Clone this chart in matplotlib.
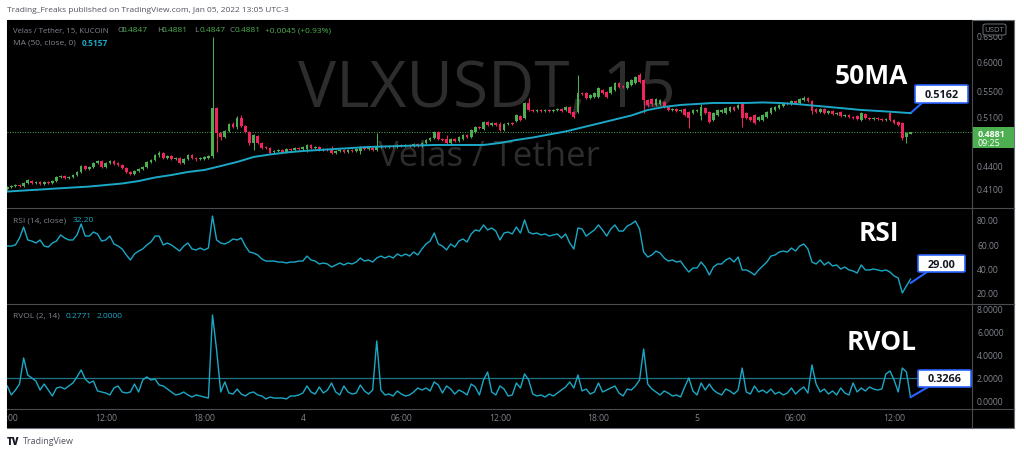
import numpy as np
import matplotlib
matplotlib.use("Agg")
import matplotlib.pyplot as plt
from matplotlib.patches import Rectangle, FancyBboxPatch
from matplotlib.lines import Line2D
from matplotlib.ticker import NullLocator

plt.rcParams["font.family"] = ["Open Sans", "DejaVu Sans"]

# VLXUSDT 15m bars, Jan 03 06:00 -> Jan 05 13:00 (UTC-3)
opens = [.4111,.4136,.4149,.4161,.4149,.4186,.4211,.4186,.4199,.4174,
 .4199,.4186,.4211,.4262,.4275,.4249,.4262,.4288,.4327,.4405,
 .4366,.4392,.4446,.4472,.4392,.4446,.4472,.4446,.4419,.4379,
 .4327,.4301,.4340,.4366,.4392,.4459,.4486,.4553,.4581,.4512,
 .4539,.4499,.4512,.4446,.4499,.4553,.4512,.4499,.4499,.4512,
 .4539,.5243,.4864,.4806,.4893,.4997,.4952,.5088,.4967,.4878,
 .4720,.4820,.4720,.4664,.4650,.4594,.4608,.4622,.4594,.4636,
 .4622,.4650,.4636,.4636,.4692,.4650,.4664,.4622,.4636,.4636,
 .4581,.4608,.4622,.4594,.4622,.4608,.4608,.4664,.4636,.4650,
 .4622,.4664,.4678,.4664,.4678,.4664,.4692,.4678,.4692,.4678,
 .4706,.4678,.4720,.4763,.4791,.4878,.4777,.4777,.4720,.4777,
 .4748,.4777,.4835,.4806,.4878,.4952,.4923,.5027,.4982,.5012,
 .4997,.4908,.4997,.5012,.5042,.5118,.5088,.5322,.5211,.5196,
 .5211,.5196,.5211,.5196,.5211,.5227,.5211,.5259,.5180,.5180,
 .5484,.5484,.5402,.5418,.5418,.5533,.5500,.5484,.5533,.5651,
 .5600,.5566,.5617,.5651,.5788,.5702,.5370,.5386,.5290,.5306,
 .5338,.5259,.5211,.5227,.5196,.5227,.5180,.5165,.5196,.5118,
 .5243,.5180,.5057,.5134,.5180,.5165,.5196,.5259,.5243,.5322,
 .5165,.5103,.5134,.5057,.5057,.5103,.5165,.5211,.5243,.5274,
 .5322,.5306,.5354,.5322,.5370,.5402,.5354,.5227,.5180,.5227,
 .5165,.5196,.5149,.5180,.5118,.5134,.5103,.5118,.5057,.5149,
 .5088,.5072,.5088,.5072,.5057,.5165,.5057,.5027,.5012,.4806,.4847]
closes = [.4136,.4149,.4161,.4149,.4186,.4224,.4186,.4199,.4174,.4199,
 .4186,.4211,.4262,.4275,.4249,.4262,.4288,.4327,.4405,.4366,
 .4392,.4446,.4472,.4392,.4446,.4472,.4432,.4419,.4379,.4327,
 .4301,.4340,.4366,.4392,.4459,.4486,.4553,.4581,.4512,.4539,
 .4499,.4512,.4446,.4499,.4553,.4512,.4499,.4512,.4526,.4539,
 .5243,.4864,.4806,.4893,.4997,.4952,.5088,.4967,.4878,.4720,
 .4835,.4720,.4650,.4650,.4581,.4608,.4622,.4594,.4636,.4622,
 .4650,.4636,.4664,.4692,.4650,.4664,.4622,.4636,.4622,.4581,
 .4608,.4622,.4594,.4622,.4608,.4636,.4664,.4636,.4650,.4622,
 .4664,.4678,.4664,.4678,.4664,.4692,.4678,.4692,.4678,.4706,
 .4678,.4720,.4763,.4791,.4878,.4777,.4763,.4720,.4777,.4748,
 .4806,.4835,.4806,.4908,.4952,.4937,.5027,.4982,.5012,.4982,
 .4908,.4997,.5012,.4997,.5134,.5057,.5322,.5211,.5196,.5211,
 .5196,.5211,.5196,.5211,.5227,.5196,.5259,.5165,.5103,.5484,
 .5467,.5402,.5451,.5484,.5566,.5484,.5418,.5583,.5651,.5583,
 .5583,.5668,.5702,.5754,.5668,.5370,.5290,.5306,.5386,.5370,
 .5259,.5211,.5227,.5196,.5211,.5134,.5088,.5211,.5211,.5259,
 .5165,.5027,.5165,.5211,.5211,.5243,.5259,.5211,.5290,.5088,
 .5088,.5057,.5012,.5103,.5134,.5180,.5243,.5259,.5290,.5306,
 .5306,.5354,.5322,.5386,.5402,.5354,.5196,.5180,.5227,.5165,
 .5196,.5149,.5165,.5118,.5134,.5103,.5088,.5072,.5165,.5088,
 .5072,.5088,.5072,.5057,.5072,.5057,.5012,.4982,.4791,.4864,.4881]
highs = [.4149,.4161,.4174,.4174,.4199,.4236,.4224,.4211,.4211,.4211,
 .4211,.4224,.4275,.4288,.4288,.4275,.4301,.4340,.4419,.4419,
 .4405,.4459,.4486,.4486,.4459,.4486,.4486,.4459,.4432,.4392,
 .4340,.4353,.4379,.4405,.4472,.4499,.4567,.4608,.4594,.4553,
 .4553,.4526,.4526,.4512,.4567,.4567,.4526,.4526,.4539,.4553,
 .6486,.5259,.4878,.4908,.5012,.5027,.5118,.5134,.4982,.4893,
 .4849,.4835,.4734,.4678,.4664,.4622,.4636,.4636,.4650,.4650,
 .4664,.4664,.4678,.4706,.4706,.4678,.4678,.4650,.4650,.4678,
 .4622,.4636,.4636,.4636,.4636,.4650,.4678,.4678,.4664,.4664,
 .4864,.4692,.4692,.4692,.4692,.4706,.4706,.4706,.4706,.4720,
 .4720,.4734,.4777,.4806,.4893,.4893,.4791,.4835,.4791,.4791,
 .4820,.4849,.4849,.4923,.4967,.4967,.5042,.5042,.5027,.5027,
 .5027,.5012,.5027,.5027,.5149,.5134,.5338,.5402,.5227,.5227,
 .5227,.5227,.5227,.5227,.5243,.5243,.5274,.5274,.5196,.5788,
 .5500,.5500,.5467,.5500,.5583,.5550,.5517,.5600,.5668,.5668,
 .5617,.5685,.5719,.5771,.5823,.5719,.5386,.5402,.5402,.5386,
 .5354,.5274,.5243,.5243,.5227,.5243,.5196,.5227,.5227,.5306,
 .5259,.5196,.5180,.5227,.5227,.5259,.5274,.5274,.5306,.5338,
 .5180,.5118,.5149,.5118,.5149,.5196,.5259,.5274,.5306,.5322,
 .5338,.5370,.5370,.5402,.5434,.5418,.5370,.5243,.5243,.5243,
 .5211,.5211,.5180,.5196,.5149,.5149,.5118,.5134,.5180,.5165,
 .5103,.5103,.5103,.5088,.5088,.5180,.5072,.5042,.5027,.4878,.4881]
lows = [.4099,.4124,.4136,.4136,.4136,.4174,.4174,.4174,.4161,.4161,
 .4174,.4174,.4199,.4249,.4236,.4236,.4249,.4275,.4314,.4353,
 .4353,.4379,.4432,.4379,.4379,.4432,.4419,.4405,.4366,.4314,
 .4288,.4288,.4327,.4353,.4379,.4446,.4472,.4526,.4499,.4499,
 .4486,.4486,.4432,.4432,.4486,.4499,.4472,.4486,.4486,.4499,
 .4512,.4594,.4763,.4791,.4878,.4937,.4923,.4952,.4864,.4692,
 .4622,.4706,.4636,.4636,.4567,.4581,.4594,.4581,.4581,.4608,
 .4608,.4622,.4622,.4594,.4636,.4636,.4608,.4608,.4608,.4567,
 .4567,.4594,.4581,.4581,.4594,.4594,.4567,.4622,.4622,.4608,
 .4608,.4650,.4650,.4650,.4650,.4650,.4664,.4664,.4664,.4664,
 .4664,.4664,.4706,.4748,.4777,.4763,.4748,.4706,.4706,.4734,
 .4734,.4763,.4791,.4791,.4864,.4923,.4908,.4967,.4967,.4967,
 .4893,.4893,.4982,.4982,.5027,.5042,.5072,.5196,.5180,.5180,
 .5180,.5180,.5180,.5180,.5196,.5180,.5196,.5149,.5088,.5165,
 .5451,.5386,.5386,.5402,.5402,.5467,.5402,.5467,.5517,.5566,
 .5566,.5550,.5600,.5634,.5651,.5165,.5259,.5274,.5274,.5290,
 .5243,.5196,.5196,.5180,.5180,.5118,.4937,.5149,.5180,.5057,
 .5149,.5012,.5042,.5118,.5165,.5149,.5180,.5196,.5227,.4952,
 .5072,.5042,.4997,.5042,.5042,.5088,.5149,.5196,.5227,.5259,
 .5290,.5290,.5306,.5306,.5354,.5338,.5149,.5165,.5165,.5149,
 .5149,.5134,.5134,.5103,.5103,.5088,.5072,.5057,.5042,.5072,
 .5057,.5057,.5057,.5042,.5042,.5042,.4997,.4967,.4763,.4720,.4847]

# MA(50) read every 4th bar
ma_step = 4
ma50 = [.4080,.4093,.4105,.4118,.4130,.4142,.4161,.4180,.4211,.4256,.4288,.4327,.4353,
 .4405,.4459,.4526,.4560,.4588,.4608,.4622,.4636,.4650,.4664,.4671,.4678,.4685,
 .4692,.4692,.4692,.4692,.4720,.4763,.4798,.4842,.4886,.4945,.5004,.5065,.5126,
 .5211,.5259,.5290,.5306,.5322,.5322,.5322,.5330,.5322,.5306,.5282,.5259,.5235,
 .5211,.5196,.5180,.5162]

rsi = [59.3,59.3,60.2,65.9,74.9,64.3,63.4,61.8,64.3,59.3,
 58.5,61.8,63.4,68.4,65.9,64.3,64.3,68.4,77.4,67.5,
 67.5,70.8,69.2,63.4,64.3,67.5,61.0,59.3,56.9,52.0,
 47.9,52.8,55.2,56.9,60.2,62.6,67.5,67.5,60.2,61.8,
 60.2,57.7,55.2,59.3,61.8,56.9,56.1,57.7,56.1,57.7,
 83.9,64.3,61.8,61.0,62.6,65.1,64.3,65.9,59.3,54.4,
 53.6,52.0,48.7,47.0,47.0,47.0,46.2,46.2,45.4,46.2,
 46.2,47.0,47.0,51.1,47.9,47.0,44.6,45.4,44.6,42.1,
 43.8,45.4,43.8,45.4,44.6,46.2,49.5,47.0,47.9,46.2,
 49.5,51.1,49.5,51.1,49.5,52.8,51.1,52.8,51.1,54.4,
 52.0,56.9,61.0,63.4,70.0,61.0,59.3,56.1,61.0,58.5,
 63.4,65.1,62.6,69.2,72.5,71.6,76.6,72.5,74.1,71.6,
 64.3,70.0,70.8,69.2,74.9,70.0,80.7,70.8,69.2,70.0,
 68.4,69.2,67.5,68.4,69.2,65.9,69.2,61.8,56.9,74.1,
 73.3,67.5,70.0,72.5,76.6,72.5,67.5,73.3,76.6,71.6,
 71.6,75.7,77.4,79.8,73.3,54.4,50.3,52.0,55.2,53.6,
 49.5,47.0,47.9,46.2,47.0,42.1,38.0,41.3,41.3,46.2,
 42.1,35.6,42.1,44.6,44.6,47.9,49.5,46.2,50.3,39.7,
 39.7,38.0,35.6,39.7,43.0,46.2,51.1,52.0,54.4,55.2,
 54.4,57.7,55.2,59.3,61.0,56.9,46.2,44.6,47.9,43.8,
 46.2,43.0,43.8,40.5,42.1,39.7,38.9,37.2,43.8,39.7,
 39.7,40.5,39.7,38.9,39.7,38.0,34.8,33.1,20.8,26.6,32.2]

rvol = [1.32,0.53,0.96,1.49,3.77,2.28,2.02,1.75,0.96,1.49,
 0.96,0.44,1.14,1.23,1.05,1.32,1.58,2.11,2.72,1.93,
 1.58,1.75,0.88,0.79,0.70,0.53,1.14,1.32,0.79,0.70,
 0.79,1.49,0.79,1.84,2.11,1.84,1.93,1.40,1.32,1.05,
 0.79,0.53,0.61,0.79,0.53,0.35,0.53,0.44,0.35,0.26,
 7.54,4.47,0.79,1.67,0.70,0.61,1.05,0.61,0.44,0.70,
 0.79,0.53,0.44,0.18,0.35,0.26,0.26,0.26,0.18,0.44,
 0.44,0.53,0.70,1.32,0.79,0.61,1.23,0.70,0.96,1.58,
 0.79,0.53,1.32,0.79,0.61,0.70,1.40,0.88,0.61,0.96,
 5.26,0.96,0.53,0.61,0.44,0.88,0.61,0.44,0.53,0.79,
 1.14,0.96,1.14,0.88,1.67,1.40,0.70,1.32,1.05,0.61,
 0.96,0.79,0.53,1.49,1.23,0.53,1.84,2.54,0.79,0.53,
 1.32,1.05,0.44,0.53,1.58,1.14,2.37,1.84,0.61,0.44,
 0.53,0.35,0.61,0.44,0.70,0.96,1.23,1.67,1.14,2.28,
 0.88,1.05,0.61,0.79,1.58,0.79,0.96,1.14,1.32,0.70,
 0.44,1.05,0.96,1.32,1.84,4.56,1.49,1.05,0.79,0.53,
 0.88,0.70,0.44,0.53,0.35,1.23,2.02,0.88,0.53,1.58,
 0.96,1.49,0.96,0.70,0.53,1.05,0.88,0.61,0.96,2.89,
 0.79,0.61,1.32,0.79,0.96,0.70,1.05,0.61,0.79,0.53,
 0.70,1.14,0.61,0.96,1.23,0.70,3.16,1.49,0.79,1.05,
 0.61,0.88,0.53,1.14,0.70,0.53,1.58,0.79,1.14,0.88,
 1.23,1.05,0.96,1.05,2.37,2.63,1.84,0.79,2.89,2.54,0.3266]
rvol_level = 2.0

time_ticks = [0, 24, 48, 72, 96, 120, 144, 168, 192, 216]
time_labels = ["06:00", "12:00", "18:00", "4", "06:00", "12:00", "18:00", "5", "06:00", "12:00"]
price_ticks = [0.41, 0.44, 0.51, 0.55, 0.60, 0.65]
rsi_ticks = [20, 40, 60, 80]
rvol_ticks = [0, 2, 4, 6, 8]
countdown = "09:25"
ma_note, rsi_note, rvol_note = 0.5162, 29.00, 0.3266

W, H = 1024, 454
UP, DOWN = "#4caf50", "#f0245e"
TEAL = "#1ba8c6"
GRAY = "#82858f"
GRID = "#4a4c52"
BLUE = "#2962ff"

def fx(px): return px / W
def fy(py): return 1 - py / H
def box(x0, y0, x1, y1): return [fx(x0), fy(y1), (x1 - x0) / W, (y1 - y0) / H]

fig = plt.figure(figsize=(W / 100, H / 100), dpi=100, facecolor="white")
fig.patches.append(Rectangle((fx(7), fy(428)), (1014 - 7) / W, (428 - 20) / H, transform=fig.transFigure,
                             facecolor="black", edgecolor="#6b6e76", lw=0.8, zorder=-1))

ax_p = fig.add_axes(box(7, 20, 972, 208))
ax_r = fig.add_axes(box(7, 208, 972, 304))
ax_v = fig.add_axes(box(7, 304, 972, 409))
ax_t = fig.add_axes(box(7, 409, 972, 428))

n = len(closes)
x = np.arange(n)
for ax in (ax_p, ax_r, ax_v, ax_t):
    ax.set_facecolor("black")
    ax.set_xlim(-0.05, 234.97)
    for s in ax.spines.values(): s.set_visible(False)
    ax.set_xticks([])
    ax.yaxis.tick_right()
    ax.tick_params(axis="y", length=0, pad=3.6, labelsize=6.2, labelcolor=GRAY)
ax_t.set_yticks([])

# price pane
o, h, l, c = map(np.array, (opens, highs, lows, closes))
col = np.where(c >= o, UP, DOWN)
ax_p.set_yscale("log")
ax_p.text(fx(487), fy(107), "VLXUSDT, 15", transform=fig.transFigure, ha="center", va="baseline",
          fontsize=46, color="#2d2d2d", zorder=0)
ax_p.text(fx(489), fy(166), "Velas / Tether", transform=fig.transFigure, ha="center", va="baseline",
          fontsize=25, color="#2d2d2d", zorder=0)
ax_p.axhline(closes[-1], color=UP, lw=0.7, ls=(0, (1, 1.6)), zorder=1)
ax_p.vlines(x, l, h, colors=col, lw=0.75, zorder=2)
ax_p.bar(x, np.abs(c - o), bottom=np.minimum(o, c), width=0.66, color=col, lw=0, zorder=3)
ax_p.plot(np.arange(0, n, ma_step), ma50, color=TEAL, lw=1.4, zorder=4)
ax_p.set_ylim(0.3884, 0.6825)
ax_p.yaxis.set_minor_locator(NullLocator())
ax_p.set_yticks(price_ticks, [f"{t:.4f}" for t in price_ticks])

# RSI pane
ax_r.plot(x, rsi, color=TEAL, lw=1.0)
ax_r.set_ylim(11.8, 90.5)
ax_r.set_yticks(rsi_ticks, [f"{t:.2f}" for t in rsi_ticks])

# RVOL pane
ax_v.axhline(rvol_level, color="#1f7384", lw=0.9, zorder=2)
ax_v.plot(x, rvol, color=TEAL, lw=1.0, zorder=3)
ax_v.set_ylim(-0.70, 8.50)
ax_v.set_yticks(rvol_ticks, [f"{t:.4f}" for t in rvol_ticks])

# time axis (first label is cut by the pane edge, as in TradingView)
ax_t.set_ylim(0, 1)
for t, lab in zip(time_ticks, time_labels):
    ax_t.text(t, 0.5, lab, ha="center", va="center", fontsize=6.2, color=GRAY, clip_on=True)

for yy in (208, 304, 409):
    fig.add_artist(Line2D([fx(7), fx(1014)], [fy(yy), fy(yy)], color=GRID, lw=0.8))
fig.add_artist(Line2D([fx(972), fx(972)], [fy(20), fy(428)], color=GRID, lw=0.8))

# price axis extras
fig.patches.append(Rectangle((fx(972.5), fy(148)), 41 / W, 21 / H, transform=fig.transFigure,
                             facecolor=UP, lw=0, zorder=2))
fig.text(fx(978), fy(133.5), f"{closes[-1]:.4f}", color="white", fontsize=6.4, fontweight="bold", va="center_baseline")
fig.text(fx(978), fy(143), countdown, color="white", fontsize=6.4, va="center_baseline")
fig.patches.append(FancyBboxPatch((fx(983), fy(35)), 23 / W, 11 / H, boxstyle="round,pad=0,rounding_size=0.003",
                                  transform=fig.transFigure, facecolor="black", edgecolor="#6b6e76", lw=0.7, zorder=2))
fig.text(fx(994.5), fy(29.7), "USDT", color=GRAY, fontsize=5.6, ha="center", va="center_baseline")

# legends
def label(px, py, s, color=GRAY, size=6.0, **kw):
    fig.text(fx(px), fy(py), s, color=color, fontsize=size, va="center_baseline", ha="left", **kw)

label(13, 30, "Velas / Tether, 15, KUCOIN", size=5.6)
for px, key, val in ((117, "O", opens[-1]), (157, "H", highs[-1]), (194.5, "L", lows[-1]), (229.5, "C", closes[-1])):
    label(px, 30, key)
    label(px + 4.8, 30, f"{val:.4f}", UP)
label(265, 30, "+0.0045 (+0.93%)", UP)
label(13, 42.5, "MA (50, close, 0)")
label(82, 42.5, "0.5157", TEAL, fontweight="bold")
label(13, 220, "RSI (14, close)")
label(73, 220, f"{rsi[-1]:.2f}", TEAL)
label(13, 315, "RVOL (2, 14)")
label(66, 315, "0.2771", TEAL)
label(97, 315, f"{rvol_level:.4f}", TEAL)

# big captions
for s, px, py in (("50MA", 871, 73), ("RSI", 879, 230), ("RVOL", 882, 339)):
    fig.text(fx(px), fy(py), s, color="white", fontsize=19, fontweight="bold", ha="center", va="center_baseline")

# callouts
def note(ax, yval, text, x0, y0, x1, y1, sx, sy):
    ax.annotate("", xy=(n - 1, yval), xytext=(fx(sx), fy(sy)), textcoords="figure fraction",
                arrowprops=dict(arrowstyle="-", color=BLUE, lw=1.5, shrinkA=0, shrinkB=0), annotation_clip=False)
    fig.patches.append(FancyBboxPatch((fx(x0), fy(y1)), (x1 - x0) / W, (y1 - y0) / H,
                                      boxstyle="round,pad=0,rounding_size=0.002", transform=fig.transFigure,
                                      facecolor="white", edgecolor=BLUE, lw=1.2, zorder=5))
    fig.text(fx((x0 + x1) / 2), fy((y0 + y1) / 2), text, ha="center", va="center_baseline",
             fontsize=7.8, fontweight="bold", color="#131722", zorder=6)

note(ax_p, ma_note, f"{ma_note:.4f}", 915, 85, 968, 103, 922, 103)
note(ax_r, rsi_note, f"{rsi_note:.2f}", 918, 255, 965, 272, 927, 272)
note(ax_v, rvol_note, f"{rvol_note:.4f}", 918, 370, 971, 387, 928, 387)

# header / footer
fig.text(fx(7), fy(10), "Trading_Freaks published on TradingView.com, Jan 05, 2022 13:05 UTC-3",
         fontsize=6.0, color="#50535e", va="center_baseline")
fig.text(fx(7), fy(441), "TV", fontsize=7, fontweight="heavy", color="#131722", va="center_baseline")
fig.text(fx(23), fy(441), "TradingView", fontsize=6.4, color="#50535e", va="center_baseline")

fig.savefig("out.png", dpi=100, facecolor="white")
